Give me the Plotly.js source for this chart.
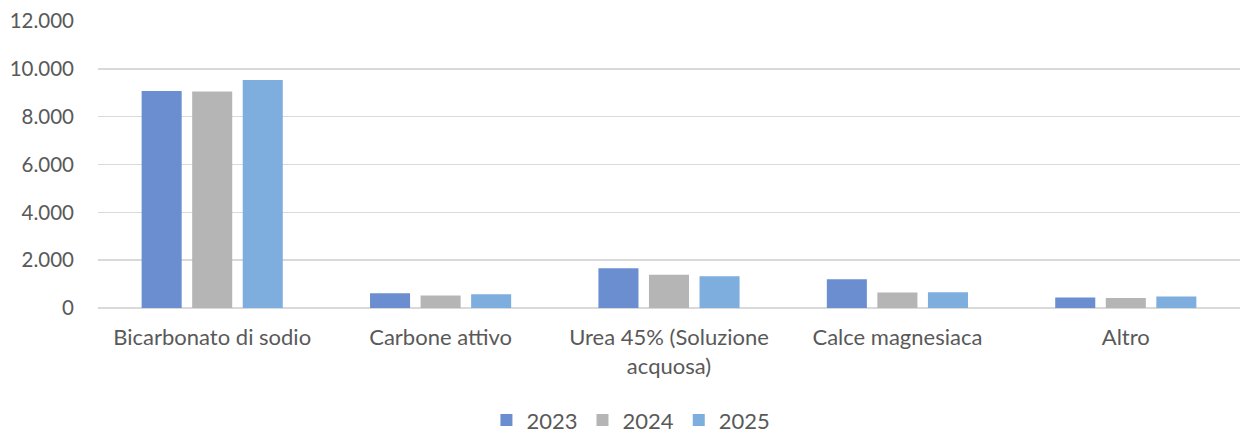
<!DOCTYPE html>
<html>
<head>
<meta charset="utf-8">
<script src="https://cdn.plot.ly/plotly-3.0.1.min.js"></script>
<style>html,body{margin:0;padding:0;background:#fff;}#chart{width:1242px;height:434px;}</style>
</head>
<body>
<div id="chart"></div>
<script>
const categories = ["Bicarbonato di sodio", "Carbone attivo", "Urea 45% (Soluzione<br>acquosa)", "Calce magnesiaca", "Altro"];
const seriesNames = ["2023", "2024", "2025"];
const values2023 = [9077, 614, 1658, 1199, 434];
const values2024 = [9050, 518, 1395, 643, 418];
const values2025 = [9537, 572, 1324, 656, 476];
const colors = ["#6A8ECF", "#B5B5B5", "#7DAEDD"];
const yTicks = [0, 2000, 4000, 6000, 8000, 10000, 12000];

const allValues = [values2023, values2024, values2025];
const traces = allValues.map((v, i) => ({
  type: "bar",
  name: seriesNames[i],
  x: categories,
  y: v,
  marker: {color: colors[i], line: {width: 0}},
  hoverinfo: "x+y+name"
}));

const fam = "Lato, 'Noto Sans', sans-serif";
const yfont = {family: fam, color: "#595959", size: 20.5};
const xfont = {family: fam, color: "#595959", size: 22};
const layout = {
  width: 1242, height: 434,
  margin: {l: 98, r: 2, t: 21, b: 126},
  paper_bgcolor: "#fff", plot_bgcolor: "#fff",
  separators: ",.",
  font: yfont,
  barmode: "group",
  bargap: 0.336,
  bargroupgap: 0.208,
  showlegend: true,
  legend: {orientation: "h", x: 0.508, xanchor: "center", xref: "container", y: 0.032, yanchor: "middle", yref: "container", font: xfont, traceorder: "normal", itemwidth: 20, tracegroupgap: 0},
  xaxis: {type: "category", showgrid: false, zeroline: false, showline: false, ticks: "", tickfont: xfont, automargin: false, ticklabelstandoff: 14},
  yaxis: {range: [0, 12000], tickvals: yTicks, tickformat: ",d", showgrid: true, gridcolor: "#D9D9D9", gridwidth: 1.5, zeroline: true, zerolinecolor: "#D9D9D9", zerolinewidth: 1.5, showline: false, ticks: "", ticklen: 0, tickfont: yfont, automargin: false, ticklabelstandoff: 23}
};
Plotly.newPlot("chart", traces, layout, {displayModeBar: false, staticPlot: true});
</script>
</body>
</html>
